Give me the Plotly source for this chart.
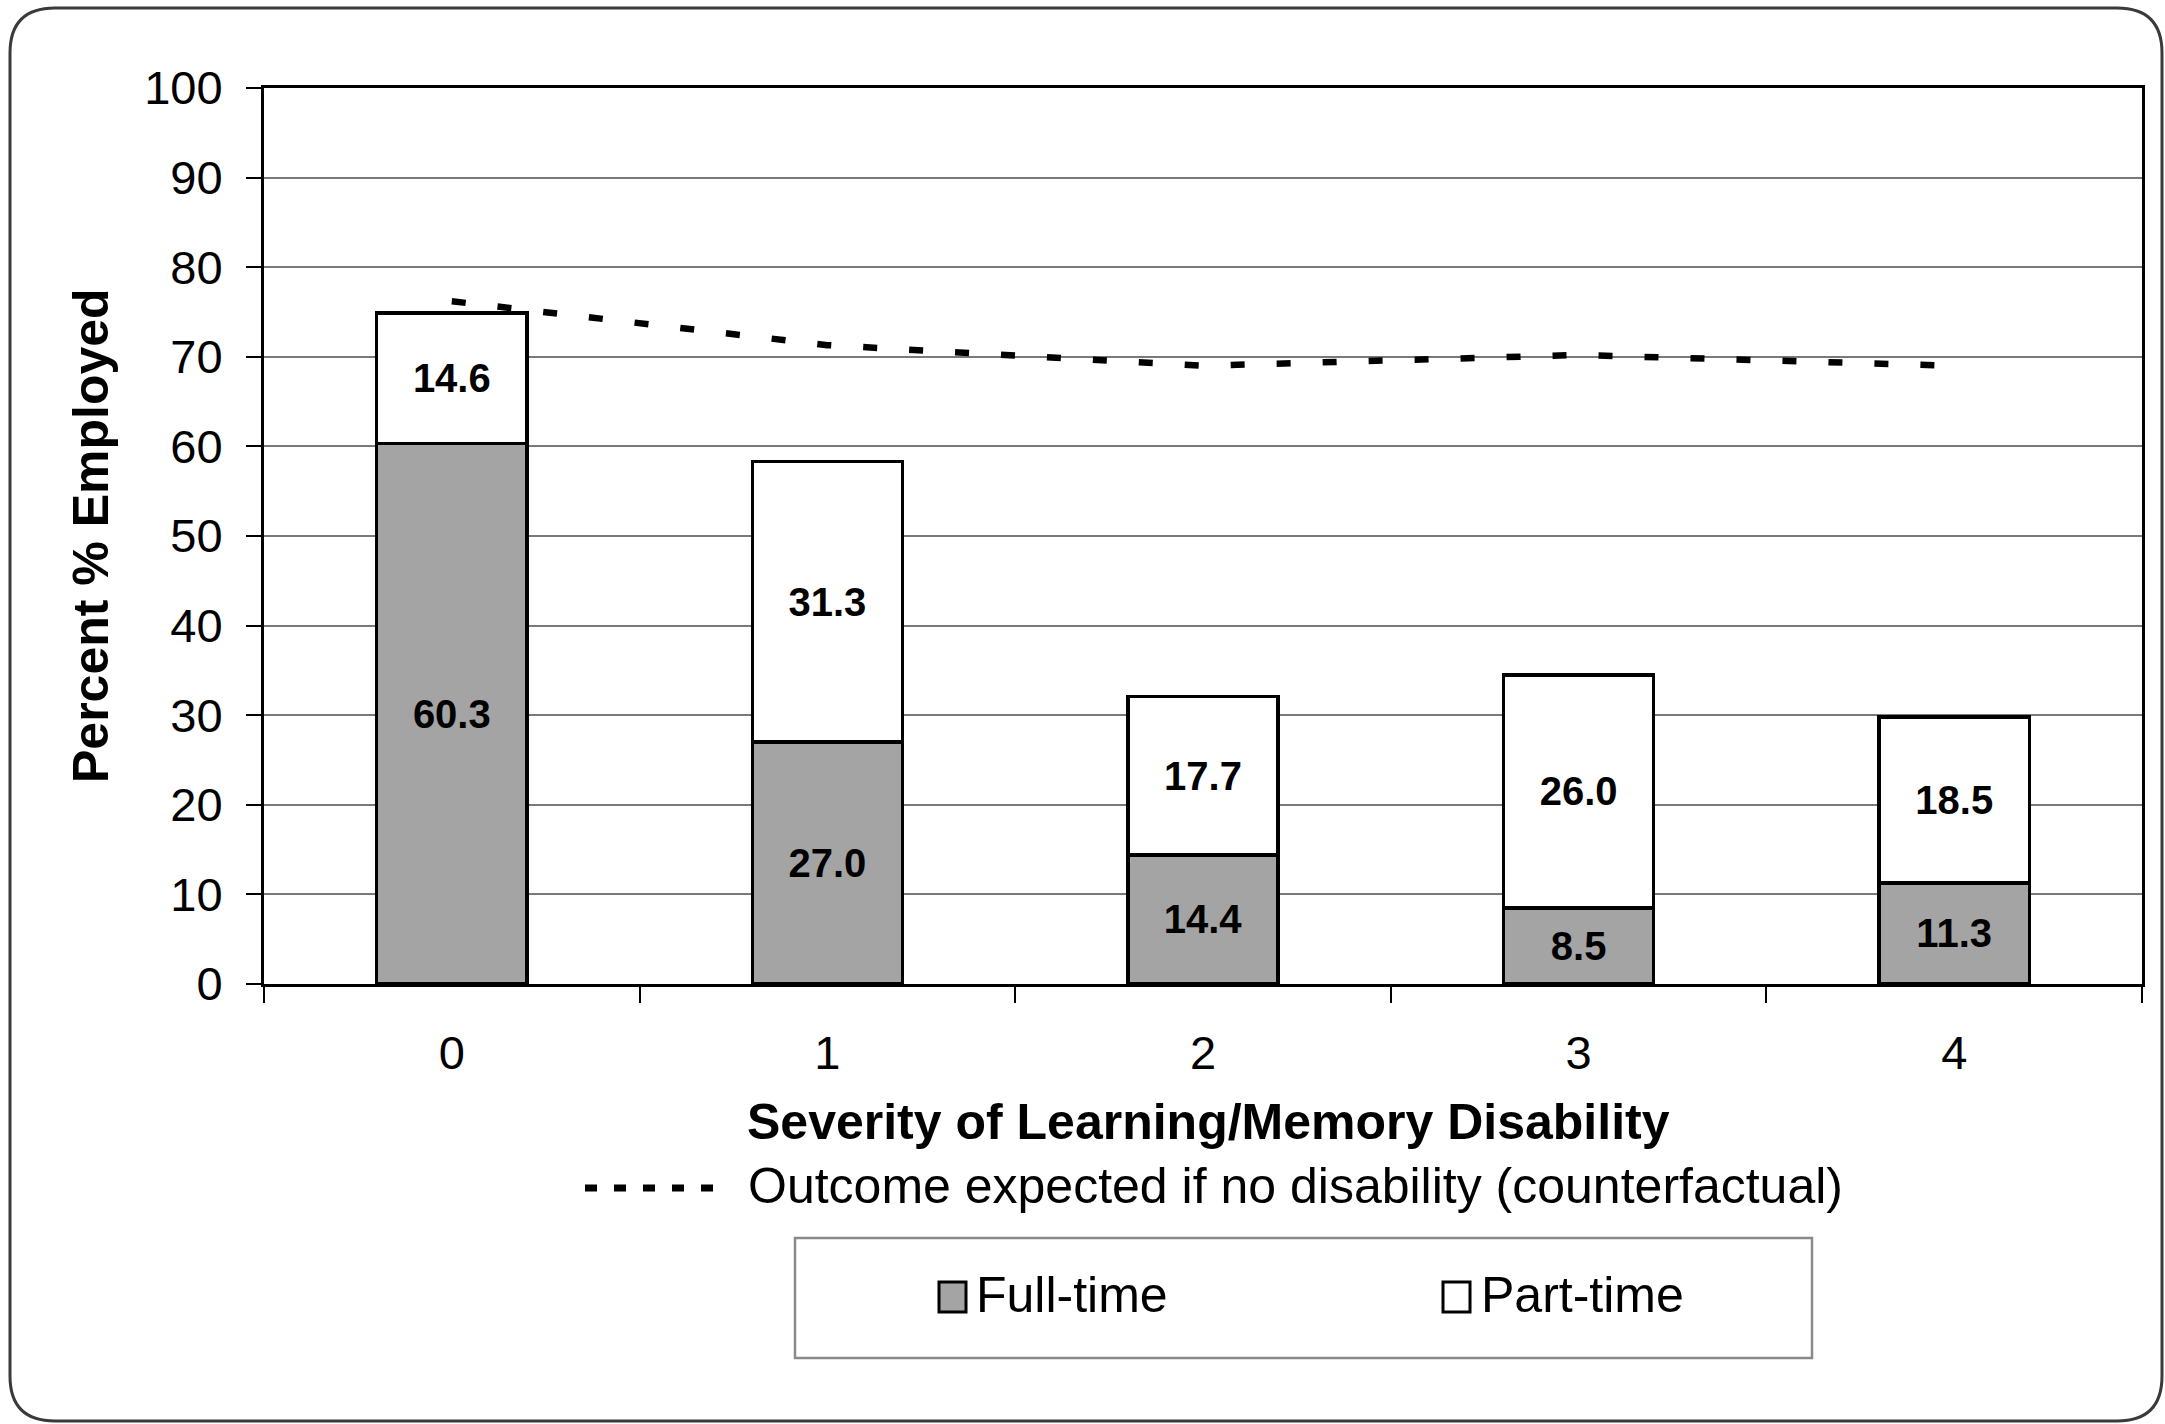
import plotly.graph_objects as go

# ---- data ----
severity = ["0", "1", "2", "3", "4"]
full_time = [60.3, 27.0, 14.4, 8.5, 11.3]
part_time = [14.6, 31.3, 17.7, 26.0, 18.5]
counterfactual = [76.2, 71.3, 69.0, 70.2, 69.0]
y_ticks = [0, 10, 20, 30, 40, 50, 60, 70, 80, 90, 100]

FONT = "Liberation Sans, Arial, sans-serif"
W, H = 2165, 1424
ML, MR, MT, MB = 264, 23, 88, 440
PW, PH = W - ML - MR, H - MT - MB


def px(X):
    return (X - ML) / PW


def py(Y):
    return (H - MB - Y) / PH


fig = go.Figure()
fig.add_trace(go.Bar(
    x=severity, y=full_time, name="Full-time", width=0.4,
    marker=dict(color="#a4a4a4", line=dict(color="black", width=3.5)),
    texttemplate="%{y:.1f}", textposition="inside", insidetextanchor="middle",
    constraintext="none", textangle=0,
    textfont=dict(family=FONT, size=40, color="black", weight="bold"),
    showlegend=False,
))
fig.add_trace(go.Bar(
    x=severity, y=part_time, name="Part-time", width=0.4,
    marker=dict(color="white", line=dict(color="black", width=3.5)),
    texttemplate="%{y:.1f}", textposition="inside", insidetextanchor="middle",
    constraintext="none", textangle=0,
    textfont=dict(family=FONT, size=40, color="black", weight="bold"),
    showlegend=False,
))
fig.add_trace(go.Scatter(
    x=severity, y=counterfactual, mode="lines",
    name="Outcome expected if no disability (counterfactual)",
    line=dict(color="black", width=6.5, dash="14px,32px"),
    showlegend=False,
))

shapes = []
# outer rounded frame
x0, x1 = px(10), px(2162)
yt, yb = py(8), py(1421)
rx, ry = 45 / PW, 45 / PH
path = (f"M {x0+rx},{yt} L {x1-rx},{yt} Q {x1},{yt} {x1},{yt-ry} "
        f"L {x1},{yb+ry} Q {x1},{yb} {x1-rx},{yb} "
        f"L {x0+rx},{yb} Q {x0},{yb} {x0},{yb+ry} "
        f"L {x0},{yt-ry} Q {x0},{yt} {x0+rx},{yt} Z")
shapes.append(dict(type="path", path=path, xref="paper", yref="paper",
                   line=dict(color="#3a3a3a", width=3), layer="below"))
# counterfactual legend sample
shapes.append(dict(type="line", xref="paper", yref="paper",
                   x0=px(585), x1=px(719), y0=py(1188), y1=py(1188),
                   line=dict(color="black", width=7, dash="12px,17px")))
# legend box
shapes.append(dict(type="rect", xref="paper", yref="paper",
                   x0=px(795), x1=px(1812), y0=py(1238), y1=py(1358),
                   line=dict(color="#8a8a8a", width=2.5), fillcolor="white"))
# legend swatches
shapes.append(dict(type="rect", xref="paper", yref="paper",
                   x0=px(939), x1=px(966), y0=py(1282), y1=py(1312),
                   line=dict(color="black", width=3), fillcolor="#a4a4a4"))
shapes.append(dict(type="rect", xref="paper", yref="paper",
                   x0=px(1443), x1=px(1470), y0=py(1282), y1=py(1312),
                   line=dict(color="black", width=3), fillcolor="white"))

annotations = [
    dict(text="Percent % Employed", xref="paper", yref="paper",
         x=px(91), y=0.5, textangle=-90, showarrow=False,
         xanchor="center", yanchor="middle",
         font=dict(family=FONT, size=50, color="black", weight="bold")),
    dict(text="Severity of Learning/Memory Disability", xref="paper", yref="paper",
         x=px(1208), y=py(1122), showarrow=False, xanchor="center", yanchor="middle",
         font=dict(family=FONT, size=50, color="black", weight="bold")),
    dict(text="Outcome expected if no disability (counterfactual)", xref="paper",
         yref="paper", x=px(746), y=py(1186), showarrow=False,
         xanchor="left", yanchor="middle",
         font=dict(family=FONT, size=50, color="black")),
    dict(text="Full-time", xref="paper", yref="paper", x=px(974), y=py(1295),
         showarrow=False, xanchor="left", yanchor="middle",
         font=dict(family=FONT, size=50, color="black")),
    dict(text="Part-time", xref="paper", yref="paper", x=px(1479), y=py(1295),
         showarrow=False, xanchor="left", yanchor="middle",
         font=dict(family=FONT, size=50, color="black")),
]

fig.update_layout(
    width=W, height=H,
    margin=dict(l=ML, r=MR, t=MT, b=MB, pad=0),
    paper_bgcolor="white", plot_bgcolor="white",
    barmode="stack", bargap=0.6,
    font=dict(family=FONT, color="black"),
    shapes=shapes, annotations=annotations,
    showlegend=False,
)
fig.update_xaxes(
    type="category", tickson="boundaries", ticks="outside", ticklen=16,
    tickwidth=2, tickcolor="black", showline=True, linecolor="black", linewidth=3,
    mirror=True, showgrid=False, ticklabelstandoff=26,
    tickfont=dict(family=FONT, size=47, color="black"),
)
fig.update_yaxes(
    range=[0, 100], tickvals=y_ticks, ticks="outside", ticklen=15, tickwidth=2,
    tickcolor="black", showline=True, linecolor="black", linewidth=3, mirror=True,
    showgrid=True, gridcolor="#7a7a7a", gridwidth=2, zeroline=False,
    ticklabelstandoff=14,
    tickfont=dict(family=FONT, size=47, color="black"),
)

fig.write_html("out.html", config={"displayModeBar": False},
               post_script="document.body.style.margin='0';")
